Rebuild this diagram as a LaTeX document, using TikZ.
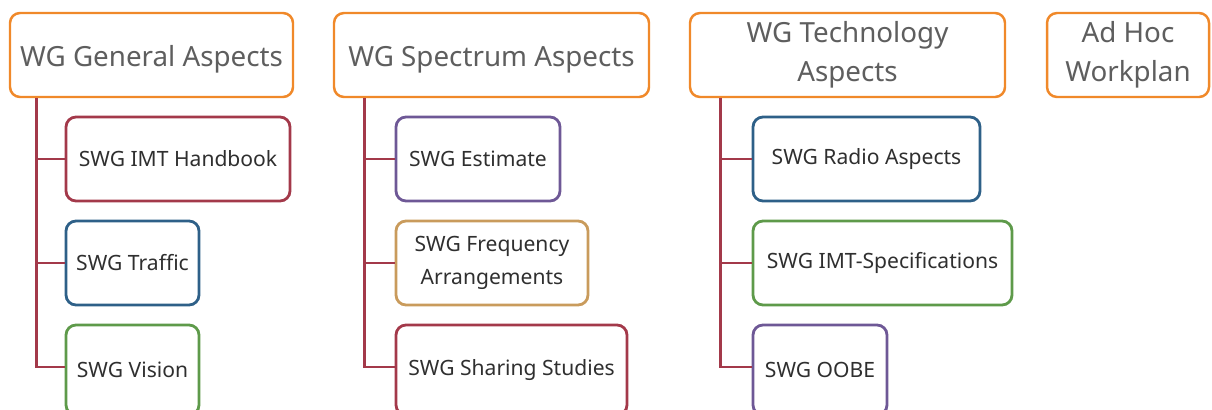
\documentclass[tikz,border=0pt]{standalone}
\usepackage{fontspec}
\setmainfont{Noto Sans}
\usetikzlibrary{calc}
\definecolor{orng}{HTML}{F0892A}
\definecolor{redc}{HTML}{A3394A}
\definecolor{bluec}{HTML}{2E6088}
\definecolor{greenc}{HTML}{5E9A4A}
\definecolor{purplec}{HTML}{6E5896}
\definecolor{tanc}{HTML}{C99B5C}
\definecolor{hdrtext}{HTML}{5E5E5E}
\definecolor{subtext}{HTML}{2F2F2F}
\newdimen\px \px=0.02cm
\tikzset{
  hdr/.style={draw=orng, line width=1.4pt, rounded corners=0.2cm, minimum height=84\px, align=center,
    text=hdrtext, font=\fontsize{15.8}{22.5}\selectfont, inner sep=0pt},
  hdrone/.style={hdr, text height=16.4pt, text depth=3pt},
  sub/.style={draw=#1, line width=1.6pt, rounded corners=0.2cm, minimum height=84\px, align=center,
    text=subtext, font=\fontsize{12}{19}\selectfont, inner sep=0pt},
  conn/.style={draw=redc, line width=1.6pt}
}
\begin{document}
\begin{tikzpicture}[x=0.02cm, y=-0.02cm]
\useasboundingbox (0,0) rectangle (1212,409);
\clip (0,0) rectangle (1212,409);
% headers
\node[hdrone, minimum width=283\px] (g) at (151.5,55) {WG General Aspects};
\node[hdrone, minimum width=315\px] (s) at (491.5,55) {WG Spectrum Aspects};
\node[hdr, minimum width=315\px] (t) at (847.5,55) {WG Technology\\Aspects};
\node[hdr, minimum width=162\px] (a) at (1128,55) {Ad Hoc\\Workplan};
% sub groups
\node[sub=redc, minimum width=224\px] (g1) at (178,159) {SWG IMT Handbook};
\node[sub=bluec, minimum width=133\px] (g2) at (132.5,263) {SWG Traffic};
\node[sub=greenc, minimum width=133\px, minimum height=90\px] (g3) at (132.5,370) {SWG Vision};
\node[sub=purplec, minimum width=164\px] (s1) at (478,159) {SWG Estimate};
\node[sub=tanc, minimum width=192\px] (s2) at (492,263) {SWG Frequency\\Arrangements};
\node[sub=redc, minimum width=231\px, minimum height=90\px] (s3) at (511.5,370) {SWG Sharing Studies};
\node[sub=bluec, minimum width=227\px] (t1) at (866.5,159) {SWG Radio Aspects};
\node[sub=greenc, minimum width=259\px] (t2) at (882.5,263) {SWG IMT-Specifications};
\node[sub=purplec, minimum width=134\px, minimum height=90\px] (t3) at (820,370) {SWG OOBE};
% connectors
\coordinate (gl) at ($(g.south west)+(28,0)$);
\coordinate (sl) at ($(s.south west)+(32,0)$);
\coordinate (tl) at ($(t.south west)+(32,0)$);
\draw[conn] (gl) |- (g1.west);
\draw[conn] (gl) |- (g2.west);
\draw[conn] (gl) |- ($(g3.west)+(0,-3)$);
\draw[conn] (sl) |- (s1.west);
\draw[conn] (sl) |- (s2.west);
\draw[conn] (sl) |- ($(s3.west)+(0,-3)$);
\draw[conn] (tl) |- (t1.west);
\draw[conn] (tl) |- (t2.west);
\draw[conn] (tl) |- ($(t3.west)+(0,-3)$);
\end{tikzpicture}
\end{document}
